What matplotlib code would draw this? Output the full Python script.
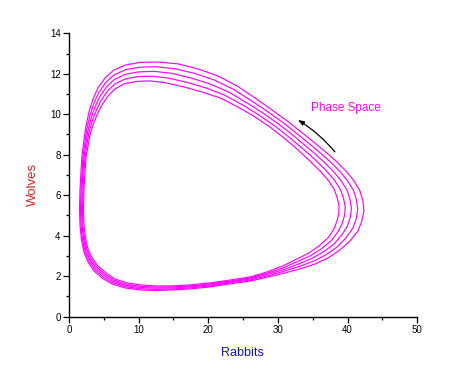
import matplotlib
matplotlib.use("Agg")
import matplotlib.pyplot as plt
from matplotlib.ticker import MultipleLocator

plt.rcParams['font.family'] = ['Liberation Sans', 'DejaVu Sans']

# Phase-space loops (Rabbits, Wolves), outermost first
loop1_x = [1.51,1.58,1.79,2.15,2.73,3.59,4.74,6.17,8.04,10.19,12.34,14.78,17.37,20.24,23.11,25.98,28.56,31.00,33.16,35.31,37.18,38.90,40.33,41.48,42.05,42.34,42.20,41.77,40.91,39.76,38.32,36.31,34.02,31.72,29.14,26.70,24.12,21.39,18.52,15.65,12.78,10.19,8.18,6.46,5.17,4.16,3.45,2.87,2.44,2.15,1.87,1.72,1.58]
loop1_y = [5.27,4.53,3.79,3.20,2.70,2.26,1.91,1.62,1.42,1.32,1.29,1.32,1.37,1.47,1.62,1.76,1.96,2.16,2.36,2.60,2.90,3.30,3.74,4.23,4.73,5.22,5.72,6.21,6.71,7.20,7.69,8.29,8.93,9.57,10.21,10.81,11.40,11.89,12.24,12.49,12.58,12.56,12.44,12.19,11.79,11.30,10.76,10.11,9.42,8.73,7.94,7.15,6.26]

loop2_x = [1.65,1.72,1.94,2.30,2.87,3.73,4.88,6.28,8.11,10.23,12.34,14.78,17.37,20.24,23.11,25.98,28.53,30.93,33.05,35.09,36.85,38.47,39.76,40.73,41.23,41.45,41.27,40.84,39.97,38.83,37.39,35.45,33.23,31.00,28.53,26.09,23.51,20.81,18.01,15.22,12.49,10.05,8.11,6.50,5.28,4.31,3.59,3.02,2.58,2.30,2.01,1.87,1.72]
loop2_y = [5.27,4.53,3.82,3.23,2.75,2.32,1.97,1.68,1.48,1.38,1.35,1.37,1.42,1.52,1.67,1.81,2.02,2.25,2.48,2.74,3.05,3.44,3.89,4.36,4.83,5.30,5.77,6.24,6.72,7.20,7.69,8.27,8.90,9.52,10.13,10.69,11.25,11.70,12.02,12.25,12.35,12.32,12.20,11.95,11.57,11.09,10.56,9.95,9.31,8.66,7.92,7.15,6.26]

loop3_x = [1.79,1.87,2.08,2.44,3.01,3.88,5.02,6.39,8.18,10.26,12.34,14.78,17.37,20.24,23.11,25.98,28.49,30.86,32.94,34.88,36.53,38.04,39.18,39.97,40.40,40.55,40.33,39.90,39.04,37.89,36.46,34.59,32.44,30.29,27.92,25.48,22.90,20.24,17.51,14.78,12.20,9.90,8.04,6.53,5.38,4.45,3.73,3.16,2.73,2.44,2.15,2.01,1.87]
loop3_y = [5.27,4.53,3.84,3.27,2.80,2.38,2.04,1.74,1.54,1.44,1.41,1.42,1.47,1.57,1.72,1.86,2.09,2.33,2.60,2.88,3.20,3.59,4.04,4.48,4.93,5.37,5.82,6.26,6.73,7.20,7.69,8.26,8.88,9.47,10.04,10.58,11.10,11.50,11.79,12.02,12.12,12.09,11.97,11.72,11.35,10.88,10.36,9.79,9.20,8.58,7.89,7.15,6.26]

loop4_x = [1.94,2.01,2.23,2.58,3.16,4.02,5.17,6.50,8.25,10.30,12.34,14.78,17.37,20.24,23.11,25.98,28.46,30.79,32.83,34.66,36.21,37.61,38.61,39.22,39.58,39.65,39.40,38.97,38.11,36.96,35.53,33.73,31.65,29.57,27.31,24.87,22.29,19.67,17.01,14.35,11.91,9.76,7.97,6.57,5.49,4.59,3.88,3.30,2.87,2.58,2.30,2.15,2.01]
loop4_y = [5.27,4.53,3.86,3.31,2.85,2.44,2.10,1.80,1.60,1.50,1.46,1.47,1.52,1.62,1.76,1.91,2.15,2.42,2.73,3.01,3.35,3.74,4.19,4.61,5.03,5.45,5.87,6.28,6.74,7.20,7.69,8.25,8.85,9.42,9.95,10.47,10.95,11.30,11.57,11.78,11.88,11.86,11.73,11.49,11.13,10.67,10.16,9.63,9.09,8.51,7.87,7.15,6.26]

loop5_x = [2.08,2.15,2.37,2.73,3.30,4.16,5.31,6.60,8.33,10.33,12.34,14.78,17.37,20.24,23.11,25.98,28.42,30.72,32.73,34.45,35.88,37.18,38.04,38.47,38.75,38.75,38.47,38.04,37.18,36.03,34.59,32.87,30.86,28.85,26.70,24.26,21.68,19.09,16.51,13.92,11.63,9.62,7.89,6.60,5.60,4.74,4.02,3.45,3.01,2.73,2.44,2.30,2.15]
loop5_y = [5.27,4.53,3.89,3.35,2.90,2.51,2.16,1.86,1.67,1.57,1.52,1.52,1.57,1.67,1.81,1.96,2.21,2.51,2.85,3.15,3.49,3.89,4.33,4.73,5.12,5.52,5.91,6.31,6.75,7.20,7.69,8.24,8.83,9.37,9.87,10.36,10.81,11.10,11.35,11.55,11.65,11.62,11.50,11.25,10.90,10.46,9.97,9.47,8.98,8.43,7.84,7.15,6.26]

loops = [(loop1_x, loop1_y), (loop2_x, loop2_y), (loop3_x, loop3_y),
         (loop4_x, loop4_y), (loop5_x, loop5_y)]

x_label = "Rabbits"
y_label = "Wolves"
note_text = "Phase Space"
note_pos = (39.7, 10.33)
arrow_tail = (38.18, 8.14)
arrow_head = (32.87, 9.72)

fig = plt.figure(figsize=(4.5, 3.87), dpi=100)
ax = fig.add_axes([0.1533, 0.1817, 0.774, 0.7323])

for lx, ly in loops:
    ax.plot(lx + lx[:1], ly + ly[:1], color='#FF00FF', lw=0.85,
            solid_joinstyle='round', antialiased=True)

ax.set_xlim(0, 50)
ax.set_ylim(0, 14)
ax.xaxis.set_major_locator(MultipleLocator(10))
ax.xaxis.set_minor_locator(MultipleLocator(5))
ax.yaxis.set_major_locator(MultipleLocator(2))
ax.yaxis.set_minor_locator(MultipleLocator(1))
for s in ['top', 'right']:
    ax.spines[s].set_visible(False)
for s in ['left', 'bottom']:
    ax.spines[s].set_linewidth(1.0)
ax.tick_params(which='major', direction='out', length=4, width=0.9, labelsize=7, pad=2)
ax.tick_params(which='minor', direction='out', length=2.5, width=0.9)

ax.set_xlabel(x_label, color='#1010E0', fontsize=9)
ax.set_ylabel(y_label, color='#E02020', fontsize=9.5)
ax.xaxis.set_label_coords(0.497, -0.107)
ax.yaxis.set_label_coords(-0.085, 0.465)

ax.text(note_pos[0], note_pos[1], note_text, color='#FF00FF', fontsize=8.5,
        ha='center', va='center')
ax.annotate('', xy=arrow_head, xytext=arrow_tail,
            arrowprops=dict(arrowstyle='-|>,head_length=0.35,head_width=0.13',
                            color='black', lw=0.9,
                            connectionstyle='arc3,rad=0.08',
                            shrinkA=0, shrinkB=0))

fig.savefig('out.png', dpi=100, facecolor='white')
